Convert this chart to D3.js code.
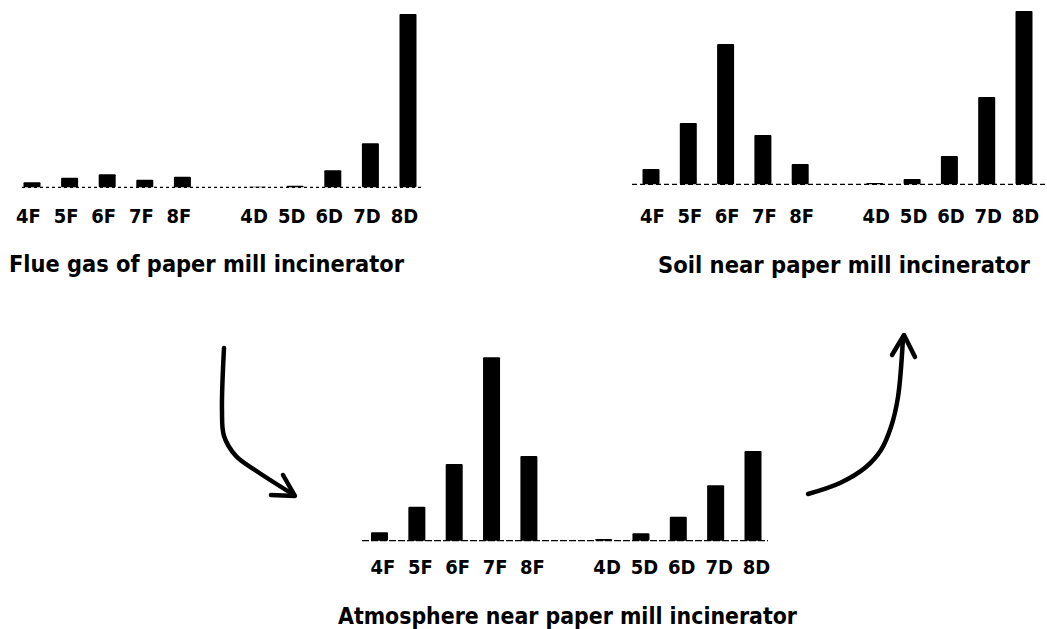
<!DOCTYPE html>
<html>
<head>
<meta charset="utf-8">
<script src="https://cdn.jsdelivr.net/npm/d3@7"></script>
<style>
body { margin: 0; background: #fff; }
svg { display: block; }
</style>
</head>
<body>
<svg id="chart" width="1047" height="629"></svg>
<script>
// congeners, furans then dioxins (a blank slot sits between the two groups)
var furans = ["4F", "5F", "6F", "7F", "8F"];
var dioxins = ["4D", "5D", "6D", "7D", "8D"];

// relative amounts, % of the tallest bar in each panel
var flueFurans = [2.9, 5.5, 7.5, 4.4, 6.1];
var flueDioxins = [0.3, 0.9, 9.8, 25.4, 100];
var soilFurans = [8.8, 35.4, 81, 28.4, 11.7];
var soilDioxins = [0.8, 3.1, 16.3, 50.4, 100];
var airFurans = [4.6, 18.5, 41.8, 100, 46.2];
var airDioxins = [0.9, 4.0, 13.1, 30.2, 48.9];

var titles = ["Flue gas of paper mill incinerator",
    "Soil near paper mill incinerator",
    "Atmosphere near paper mill incinerator"];

// hand drawn arrows between the panels
var arrowDown = [[224,348],[222,410],[224,436],[236,456],[258,472],[294,495]];
var arrowDownHead = [[271,495],[295,496],[283,475]];
var arrowUp = [[808,494],[840,483],[866,467],[881,450],[891,427],[898,397],[903,338]];
var arrowUpHead = [[892,355],[904,335],[915,357]];

var slots = furans.concat(["gap"]).concat(dioxins);

var panels = [
    {fur: flueFurans, dio: flueDioxins, title: titles[0],
     x0: 32, x1: 408, base: 187.3, h: 173.3, lineX: [22, 424], dash: "3,3",
     labelDx: -4, labelY: 223, titleX: 9, titleW: 395, titleY: 272},
    {fur: soilFurans, dio: soilDioxins, title: titles[1],
     x0: 651, x1: 1024, base: 184.3, h: 173.3, lineX: [632, 1045], dash: "5,3",
     labelDx: 1, labelY: 223, titleX: 658, titleW: 372, titleY: 273},
    {fur: airFurans, dio: airDioxins, title: titles[2],
     x0: 379.5, x1: 753, base: 540.7, h: 183.4, lineX: [362, 768], dash: "7,2",
     labelDx: 3, labelY: 574, titleX: 338, titleW: 459, titleY: 624}
];

var svg = d3.select("#chart");
var barWidth = 17;
var labelSize = 20;
var fontName = "'DejaVu Sans Condensed', 'DejaVu Sans', sans-serif";

function drawPanel(p) {
    var g = svg.append("g");
    var data = [];
    for (var i = 0; i < furans.length; i++) {
        data.push({key: furans[i], value: p.fur[i]});
    }
    for (var i = 0; i < dioxins.length; i++) {
        data.push({key: dioxins[i], value: p.dio[i]});
    }

    var x = d3.scalePoint()
        .domain(slots)
        .range([p.x0, p.x1]);
    var y = d3.scaleLinear()
        .domain([0, 100])
        .range([p.base, p.base - p.h]);

    // broken baseline
    g.append("line")
        .attr("x1", p.lineX[0])
        .attr("x2", p.lineX[1])
        .attr("y1", p.base)
        .attr("y2", p.base)
        .attr("stroke", "#000")
        .attr("stroke-width", 1.3)
        .attr("stroke-dasharray", p.dash);

    g.append("g")
        .selectAll("rect")
        .data(data)
        .enter()
        .append("rect")
        .attr("x", function(d) { return x(d.key) - barWidth / 2; })
        .attr("y", function(d) { return y(d.value); })
        .attr("width", barWidth)
        .attr("height", function(d) { return p.base - y(d.value); })
        .attr("rx", 1)
        .attr("fill", "#000");

    var axis = g.append("g")
        .attr("transform", "translate(" + p.labelDx + "," + p.base + ")")
        .call(d3.axisBottom(x)
            .tickSize(0)
            .tickPadding(p.labelY - p.base - labelSize * 0.71)
            .tickFormat(function(d) { return d == "gap" ? "" : d; }));
    axis.select(".domain").remove();
    axis.selectAll("text")
        .attr("fill", "#000")
        .style("font-family", fontName)
        .style("font-stretch", "condensed")
        .style("font-weight", "bold")
        .style("font-size", labelSize + "px");

    g.append("text")
        .attr("x", p.titleX)
        .attr("y", p.titleY)
        .attr("textLength", p.titleW)
        .attr("lengthAdjust", "spacingAndGlyphs")
        .style("font-family", fontName)
        .style("font-stretch", "condensed")
        .style("font-weight", "bold")
        .style("font-size", "23px")
        .text(p.title);
}

function drawArrow(pts, head) {
    var line = d3.line().curve(d3.curveCatmullRom.alpha(0.5));
    svg.append("path")
        .attr("d", line(pts))
        .attr("fill", "none")
        .attr("stroke", "#000")
        .attr("stroke-width", 4.5)
        .attr("stroke-linecap", "round");
    svg.append("path")
        .attr("d", d3.line()(head))
        .attr("fill", "none")
        .attr("stroke", "#000")
        .attr("stroke-width", 4.5)
        .attr("stroke-linecap", "round")
        .attr("stroke-linejoin", "round");
}

for (var i = 0; i < panels.length; i++) {
    drawPanel(panels[i]);
}
drawArrow(arrowDown, arrowDownHead);
drawArrow(arrowUp, arrowUpHead);
</script>
</body>
</html>
